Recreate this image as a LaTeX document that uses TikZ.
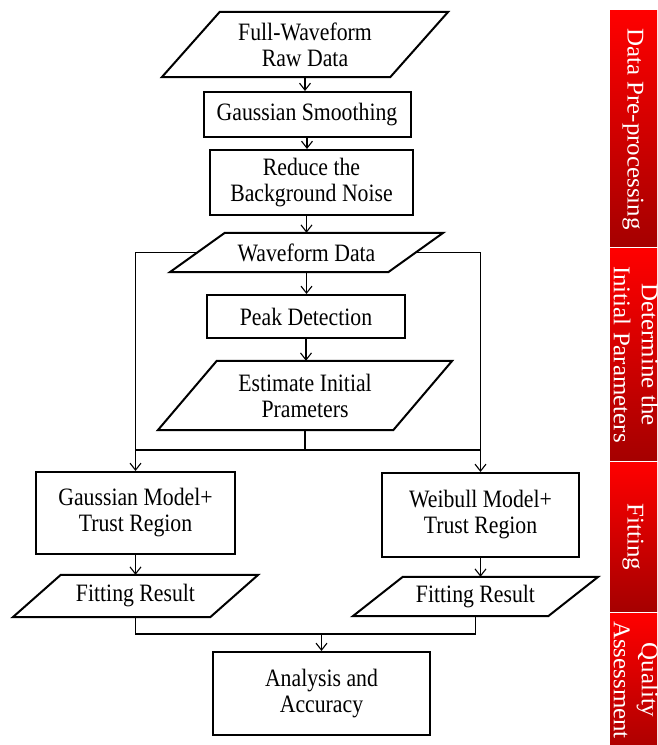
\documentclass[tikz,border=0pt]{standalone}
\usepackage{fontspec}
\setmainfont[FakeStretch=0.87]{Liberation Serif}
\newfontfamily\sidefont[FakeStretch=1.04]{Liberation Serif}
\usetikzlibrary{arrows.meta,calc}
\definecolor{bandred}{RGB}{255,0,0}
\definecolor{banddark}{RGB}{165,0,0}
\newcommand\drawpara[2]{\draw[line width=2pt,line join=miter] ($(#1.north west)+(#2,0)$) -- (#1.north east) -- ($(#1.south east)-(#2,0)$) -- (#1.south west) -- cycle;}
\begin{document}
\begin{tikzpicture}[x=1pt,y=-1pt,
  box/.style={draw,line width=2pt,fill=white,inner sep=0pt,align=center,font=\fontsize{25}{26}\selectfont},
  pbox/.style={inner sep=0pt,align=center,font=\fontsize{25}{26}\selectfont},
  conn/.style={line width=1.1pt},
  arr/.style={conn,-{Straight Barb[length=7pt,width=11pt,line width=1.1pt]}},
  band/.style={top color=bandred,bottom color=banddark,draw=none},
  bandtext/.style={text=white,rotate=-90,align=center,inner sep=0pt,font=\sidefont\fontsize{24}{28}\selectfont}
]
\clip (0,0) rectangle (657,745);
\fill[white] (0,0) rectangle (657,745);

% main flow nodes
\node[pbox,minimum width=286pt,minimum height=65pt] (raw) at (305,44.5) {Full-Waveform\\Raw Data};
\node[box,minimum width=207pt,minimum height=45pt] (gs) at (307,114.5) {Gaussian Smoothing};
\node[box,minimum width=203pt,minimum height=65pt] (rbn) at (311.5,182.5) {Reduce the\\Background Noise};
\node[pbox,minimum width=273pt,minimum height=39pt] (wf) at (306.5,252.5) {Waveform Data};
\node[box,minimum width=198pt,minimum height=43pt] (pd) at (306,316.5) {Peak Detection};
\node[pbox,minimum width=294pt,minimum height=69pt] (eip) at (305,395.5) {Estimate Initial\\Prameters};
\node[box,minimum width=199pt,minimum height=82pt] (gm) at (135.5,513) {Gaussian Model+\\Trust Region};
\node[box,minimum width=197pt,minimum height=84pt] (wm) at (480.5,515) {Weibull Model+\\Trust Region};
\node[pbox,minimum width=245pt,minimum height=42pt] (fl) at (135.5,596) {Fitting Result};
\node[pbox,minimum width=245pt,minimum height=39pt] (fr) at (475.5,596.5) {Fitting Result};
\node[box,minimum width=217pt,minimum height=83pt] (aa) at (321.5,693.5) {Analysis and\\Accuracy};

% parallelogram outlines
\drawpara{raw}{58}
\drawpara{wf}{55}
\drawpara{eip}{59}
\drawpara{fl}{48}
\drawpara{fr}{50}

% connectors
\draw[arr] (raw.south) -- (raw.south |- gs.north);
\draw[arr] (gs.south) -- (gs.south |- rbn.north);
\draw[arr] (wf.north |- rbn.south) -- (wf.north);
\draw[arr] (wf.south) -- (wf.south |- pd.north);
\draw[arr] (pd.south) -- (pd.south |- eip.north);
\coordinate (jn) at (305,450);
\draw[conn] (eip.south) -- (eip.south |- jn);
\draw[conn] (gm.north |- jn) -- (wm.north |- jn);
\draw[arr] ($(wf.west)+(27.5,0)$) -| (gm.north);
\draw[arr] ($(wf.east)-(27.5,0)$) -| (wm.north);
\draw[arr] (gm.south) -- (gm.south |- fl.north);
\draw[arr] (wm.south) -- (wm.south |- fr.north);
\coordinate (jb) at (321.5,634);
\draw[conn] (fl.south) |- (jb) -| (fr.south);
\draw[arr] (jb) -- (aa.north);

% side bands
\shade[band] (610,10) rectangle (660,246.5);
\node[bandtext] (s1) at (633,129) {Data Pre-processing};
\shade[band] (610,248.5) rectangle (660,460.5);
\node[bandtext] (s2) at (636,354.5) {Determine the\\Initial Parameters};
\shade[band] (610,462.5) rectangle (660,611.5);
\node[bandtext] (s3) at (633,537) {Fitting};
\shade[band] (610,613.5) rectangle (660,760);
\node[bandtext] (s4) at (636,680) {Quality\\Assessment};
\end{tikzpicture}
\end{document}
